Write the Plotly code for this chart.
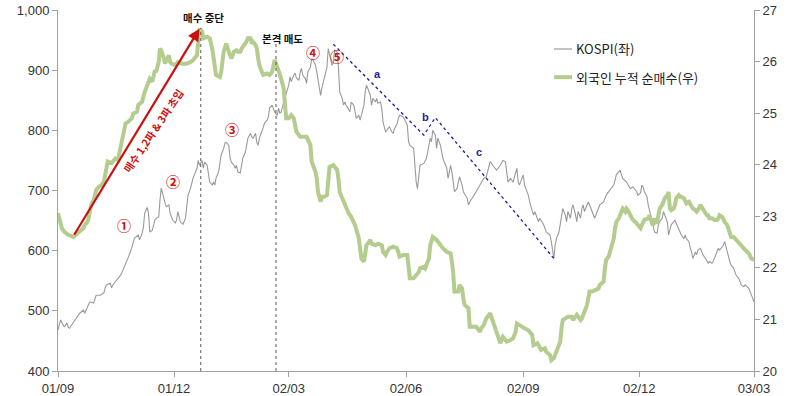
import pandas as pd
import plotly.graph_objects as go

BASE = pd.Timestamp("2001-09-01")

# KOSPI (left axis): day offset from 2001-09-01, index level
kospi_day = [0,2,3,4,5,7,8,9,12,15,17,20,21,23,25,28,30,33,36,37,
             38,41,42,43,45,47,49,50,51,53,55,58,59,60,63,64,66,67,68,70,
             71,72,74,75,76,77,79,80,81,84,85,87,88,90,92,93,94,96,98,100,
             101,102,104,106,109,110,111,113,114,115,117,118,119,121,122,123,124,126,127,128,
             130,131,132,134,135,136,138,139,140,141,143,144,145,147,148,149,151,152,153,155,
             156,157,158,160,161,162,164,165,166,168,169,170,172,173,174,175,177,179,181,182,
             183,185,186,187,189,190,191,192,194,195,196,198,199,200,202,203,204,206,207,208,
             209,211,212,213,215,216,217,219,220,221,223,224,225,226,228,229,230,232,233,234,
             236,237,238,240,241,242,243,245,246,247,249,250,251,253,254,255,257,258,259,260,
             262,263,264,266,267,268,271,272,274,275,276,279,280,281,282,283,284,287,289,291,
             292,293,294,296,297,298,300,302,305,306,308,309,310,311,313,315,317,318,321,322,
             323,326,328,331,334,336,338,339,341,344,347,349,351,352,353,355,357,360,361,362,
             364,365,366,368,369,370,373,374,376,377,378,381,383,386,387,389,390,391,393,394,
             395,396,398,399,400,402,403,404,406,407,408,410,411,412,413,415,416,417,419,420,
             421,423,425,428,430,433,436,438,441,442,443,446,449,451,454,455,457,458,459,460,
             462,463,464,466,467,468,470,471,472,474,475,476,478,479,480,481,483,484,485,487,
             488,489,491,492,493,495,496,497,498,500,501,502,504,505,506,508,509,510,511,513,
             514,515,517,518,519,521,522,523,525,526,527,528,530,531,532,534,535,536,538,539,
             542,543,544,546]
kospi_val = [468,485,481,476,473,480,473,471,480,488,496,501,496,506,515,513,526,526,530,538,
             543,546,538,543,548,554,559,563,568,576,588,606,613,621,626,618,629,639,662,672,
             662,631,634,646,651,654,656,684,704,679,673,676,662,651,646,651,665,648,644,654,
             676,692,704,721,737,750,742,750,737,747,742,726,714,709,714,709,721,731,747,759,
             770,779,780,775,754,747,742,737,742,731,729,742,754,764,775,787,795,789,787,795,
             780,775,787,797,805,812,817,822,837,842,837,830,825,837,829,830,847,863,875,889,
             881,892,895,887,883,897,903,892,886,878,897,905,919,917,908,897,881,858,870,878,
             889,905,936,925,908,913,933,930,905,864,853,842,847,842,836,831,847,842,831,820,
             825,817,825,842,864,875,870,858,842,853,847,853,845,847,836,814,797,800,803,806,
             797,795,803,811,820,825,822,817,809,781,775,770,742,714,703,720,742,745,753,775,
             787,781,800,792,770,787,775,753,737,720,742,731,714,698,703,723,709,698,687,676,
             681,690,698,709,720,723,742,748,742,734,742,750,748,726,714,720,714,737,714,709,
             720,726,709,698,692,681,659,665,654,648,654,643,631,626,615,587,609,620,631,643,
             654,670,659,648,665,654,670,676,659,648,665,654,670,676,665,676,681,676,665,659,
             654,665,676,681,692,701,709,726,734,726,720,714,703,706,698,692,696,709,706,698,
             690,676,667,654,643,631,629,643,648,654,665,659,648,626,637,643,648,651,645,634,
             629,626,620,626,620,615,604,598,587,598,593,601,604,598,593,587,582,579,582,579,
             582,587,598,604,601,606,609,615,598,587,582,576,571,565,559,554,548,543,540,543,
             537,532,526,515]

# Foreign investors' cumulative net buying (right axis), trillion won
foreign_day = [0,2,3,5,8,12,15,17,20,21,23,24,25,26,28,29,30,32,34,36,
               37,38,39,42,45,47,49,51,53,55,58,59,62,63,66,68,70,71,72,74,
               75,76,77,79,80,81,83,84,85,87,88,89,92,94,97,101,104,106,109,110,
               111,113,114,117,119,121,122,123,124,127,128,130,131,132,134,135,136,138,140,141,
               143,144,147,149,151,152,153,155,156,157,158,160,161,164,166,168,169,170,172,173,
               174,175,177,178,179,181,183,185,187,190,192,195,198,199,202,203,204,206,207,209,
               211,212,213,216,219,220,221,223,225,228,230,233,236,237,238,240,241,242,243,245,
               246,249,251,254,255,257,258,260,263,266,268,271,274,275,276,279,281,283,284,287,
               288,289,291,292,293,294,297,300,302,305,308,309,310,311,314,315,317,318,319,322,
               323,326,328,331,332,334,336,339,340,341,344,347,349,352,355,357,359,360,362,365,
               366,369,372,373,376,377,378,379,382,383,386,387,389,391,393,394,395,396,398,400,
               403,404,407,408,410,411,412,413,415,416,417,419,421,424,425,428,429,430,432,433,
               436,437,438,440,442,443,445,446,447,449,451,453,455,457,458,459,460,463,464,466,
               467,468,470,471,472,474,475,476,478,479,480,481,483,484,485,487,488,489,491,492,
               493,495,496,497,498,500,501,502,504,505,506,508,509,510,511,513,515,517,518,519,
               521,522,523,525,526,527,528,530,531,532,534,535,536,538,539,542,543,544,546]
foreign_val = [23.06,22.89,22.77,22.70,22.64,22.60,22.67,22.70,22.77,22.83,22.89,22.96,23.09,23.22,23.31,23.41,23.51,23.57,23.60,23.67,
               23.80,23.99,24.06,24.03,24.12,24.09,24.32,24.64,24.80,24.83,24.90,24.99,25.03,25.16,25.22,25.41,25.54,25.61,25.67,25.61,
               25.74,25.83,25.80,25.99,26.25,26.22,26.06,25.96,26.03,26.12,25.99,25.96,25.93,25.99,25.96,25.96,25.99,26.03,26.12,26.45,
               26.64,26.58,26.45,26.48,26.45,26.25,26.06,25.87,25.74,25.70,25.80,26.19,26.32,26.35,26.19,26.12,26.06,26.19,26.22,26.19,
               26.19,26.25,26.35,26.45,26.45,26.35,26.38,26.32,26.25,26.06,25.93,25.80,25.74,25.77,25.74,25.80,25.99,26.03,25.90,25.83,
               25.74,25.67,25.48,25.16,24.90,24.90,24.96,24.90,24.64,24.54,24.54,24.54,24.38,24.06,23.86,23.73,23.47,23.28,23.38,23.38,
               23.41,23.86,23.96,23.99,23.90,23.73,23.47,23.35,23.22,23.06,22.99,22.83,22.57,22.31,22.18,22.12,22.38,22.44,22.47,22.54,
               22.47,22.44,22.47,22.44,22.31,22.25,22.31,22.38,22.41,22.38,22.22,22.25,22.25,21.99,21.80,21.80,21.86,21.92,21.99,22.02,
               21.99,22.05,22.18,22.44,22.57,22.60,22.54,22.44,22.38,22.31,22.28,22.12,21.92,21.54,21.54,21.67,21.60,21.41,21.28,21.22,
               20.86,20.86,20.86,20.76,20.83,20.89,21.02,21.12,21.05,20.96,20.76,20.54,20.66,20.57,20.60,20.63,20.76,20.92,20.89,20.86,
               20.83,20.79,20.70,20.50,20.54,20.50,20.44,20.41,20.44,20.37,20.31,20.21,20.25,20.37,20.50,20.57,20.83,20.99,21.02,21.05,
               21.05,20.99,21.09,21.05,20.99,21.02,21.12,21.15,21.28,21.41,21.54,21.54,21.57,21.60,21.67,21.73,21.99,22.15,22.22,22.31,
               22.57,22.77,22.89,22.96,23.12,23.15,23.09,23.15,23.12,23.02,22.93,22.89,22.83,22.77,22.83,22.89,22.93,22.96,23.02,22.86,
               22.83,22.96,22.86,23.02,23.15,23.22,23.28,23.35,23.41,23.47,23.15,23.12,23.15,23.22,23.35,23.41,23.38,23.38,23.35,23.31,
               23.25,23.28,23.22,23.18,23.15,23.12,23.09,23.12,23.22,23.18,23.15,23.06,23.02,23.02,22.96,22.96,22.93,22.93,22.96,23.02,
               22.99,22.93,22.89,22.83,22.73,22.64,22.60,22.60,22.57,22.54,22.47,22.44,22.41,22.38,22.35,22.28,22.22,22.18,22.15]

# Elliott a-b-c wave guide (day offset, KOSPI level)
wave_day = [216, 287, 296, 389]
wave_val = [943, 792, 821, 587]

# Red "buy" arrow (day offset, KOSPI level): start, end
arrow_day = [12, 111]
arrow_val = [624, 969]
arrow_label_day = 75
arrow_label_val = 799

# Event lines (day offset, top KOSPI level)
event_day = [112, 171]
event_top = [970, 945]
event_label = ["매수 중단", "본격 매도"]
event_label_day = [114, 176.5]
event_label_val = [988, 953]

# Circled wave counts
count_text = ["①", "②", "③", "④", "⑤"]
count_day = [52, 90, 136.5, 200, 219]
count_val = [642, 716, 802, 931, 923]

# a, b, c labels
abc_text = ["a", "b", "c"]
abc_day = [251, 288, 330]
abc_val = [893, 822, 764]

tick_vals = ["2001-09-01", "2001-12-01", "2002-03-01", "2002-06-01",
             "2002-09-01", "2002-12-01", "2003-03-01"]
tick_text = ["01/09", "01/12", "02/03", "02/06", "02/09", "02/12", "03/03"]


def to_date(days):
    return [BASE + pd.Timedelta(days=float(d)) for d in days]


KOR = "Noto Sans CJK KR"
NUM = "Liberation Sans, Arial, sans-serif"
GREEN = "#B4CC8E"
GRAY = "#9A9A9A"
RED = "#CC1010"
BLUE = "#1C1C9A"
AXIS = "#A0A0A0"

fig = go.Figure()
fig.add_trace(go.Scatter(x=to_date(foreign_day), y=foreign_val, mode="lines",
                         line=dict(color=GREEN, width=4), yaxis="y2",
                         name="외국인 누적 순매수(우)", showlegend=False))
fig.add_trace(go.Scatter(x=to_date(kospi_day), y=kospi_val, mode="lines",
                         line=dict(color=GRAY, width=1.1),
                         name="KOSPI(좌)", showlegend=False))
fig.add_trace(go.Scatter(x=to_date(wave_day), y=wave_val, mode="lines",
                         line=dict(color=BLUE, width=1.3, dash="dot"),
                         showlegend=False, hoverinfo="skip"))

annotations = []
shapes = []

# red arrow
ad = to_date(arrow_day)
annotations.append(dict(x=ad[1], y=arrow_val[1], ax=ad[0], ay=arrow_val[0],
                        xref="x", yref="y", axref="x", ayref="y", text="",
                        showarrow=True, arrowhead=2, arrowsize=1.1, arrowwidth=2.2,
                        arrowcolor=RED))
annotations.append(dict(x=to_date([arrow_label_day])[0], y=arrow_label_val,
                        xref="x", yref="y",
                        text="<b>매수 1,2파 & 3파 초입</b>", showarrow=False,
                        textangle=-56, font=dict(family=KOR, size=10.5, color=RED)))

for d, top, lab, ld, lv in zip(to_date(event_day), event_top, event_label,
                               to_date(event_label_day), event_label_val):
    shapes.append(dict(type="line", xref="x", yref="y", x0=d, x1=d, y0=400, y1=top,
                       line=dict(color="#5A5A48", width=1, dash="dot")))
    annotations.append(dict(x=ld, y=lv, xref="x", yref="y", text="<b>" + lab + "</b>",
                            showarrow=False, font=dict(family=KOR, size=10.5, color="#111")))

for t, d, v in zip(count_text, to_date(count_day), count_val):
    annotations.append(dict(x=d, y=v, xref="x", yref="y", text="<b>" + t + "</b>",
                            showarrow=False, font=dict(family=KOR, size=14, color=RED)))

for t, d, v in zip(abc_text, to_date(abc_day), abc_val):
    annotations.append(dict(x=d, y=v, xref="x", yref="y", text="<b>" + t + "</b>",
                            showarrow=False, font=dict(family=NUM, size=11, color=BLUE)))

# manual legend
shapes.append(dict(type="line", xref="paper", yref="paper", x0=0.7126, x1=0.7385,
                   y0=0.892, y1=0.892, line=dict(color=GRAY, width=1.2)))
shapes.append(dict(type="line", xref="paper", yref="paper", x0=0.7126, x1=0.7385,
                   y0=0.814, y1=0.814, line=dict(color=GREEN, width=4)))
annotations.append(dict(x=0.741, y=0.892, xref="paper", yref="paper", xanchor="left",
                        yanchor="middle", text="KOSPI(좌)", showarrow=False,
                        font=dict(family=KOR, size=13, color="#222")))
annotations.append(dict(x=0.741, y=0.814, xref="paper", yref="paper", xanchor="left",
                        yanchor="middle", text="외국인 누적 순매수(우)", showarrow=False,
                        font=dict(family=KOR, size=13, color="#222")))

axis_common = dict(showgrid=False, zeroline=False, showline=True, linecolor=AXIS,
                   ticks="outside", ticklen=5, tickcolor=AXIS, automargin=False,
                   tickfont=dict(family=NUM, size=13, color="#333"))

fig.update_layout(
    width=800, height=396,
    margin=dict(l=58, r=46, t=10, b=25, autoexpand=False),
    plot_bgcolor="white", paper_bgcolor="white",
    showlegend=False,
    xaxis=dict(type="date", range=["2001-09-01", "2003-03-01"],
               tickvals=tick_vals, ticktext=tick_text, **axis_common),
    yaxis=dict(range=[400, 1000], dtick=100, tickformat=",", **axis_common),
    yaxis2=dict(range=[20, 27], dtick=1, overlaying="y", side="right", **axis_common),
    annotations=annotations,
    shapes=shapes,
)

fig.write_html("out.html", config={"displayModeBar": False},
               post_script="document.body.style.margin='0';document.body.style.overflow='hidden';")
